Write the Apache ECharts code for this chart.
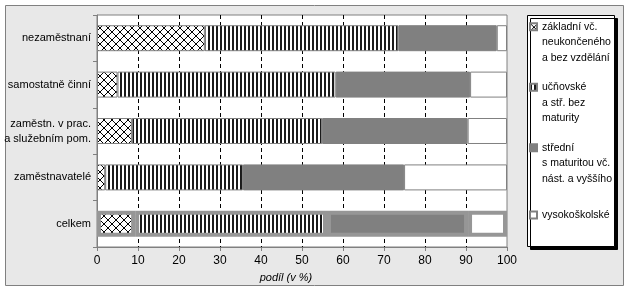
<!DOCTYPE html>
<html>
<head>
<meta charset="utf-8">
<script src="https://cdn.jsdelivr.net/npm/echarts@6/dist/echarts.min.js"></script>
<style>
html,body{margin:0;padding:0;background:#fff;}
#chart{width:630px;height:292px;}
</style>
</head>
<body>
<div id="chart"></div>
<script>
// ---- data ----
const categories = ['nezaměstnaní', 'samostatně činní', 'zaměstn. v prac.\na služebním pom.', 'zaměstnavatelé', 'celkem'];
const seriesNames = ['základní vč.\nneukončeného\na bez vzdělání', 'učňovské\na stř. bez\nmaturity', 'střední\ns maturitou vč.\nnást. a vyššího', 'vysokoškolské'];
const zakladni = [26.3, 5.0, 8.5, 2.0, 9.3];
const ucnovske = [47.2, 53.2, 46.4, 33.6, 46.8];
const stredni = [24.0, 32.8, 35.5, 39.3, 34.4];
const vysokoskolske = [2.5, 9.0, 9.6, 25.1, 9.5];
const xMin = 0, xMax = 100, xStep = 10;
const axisName = 'podíl (v %)';

// ---- patterns ----
function crossPattern() {
  const c = document.createElement('canvas'); c.width = 8; c.height = 8;
  const g = c.getContext('2d');
  g.fillStyle = '#fff'; g.fillRect(0, 0, 8, 8);
  g.fillStyle = '#000';
  for (let i = 0; i < 8; i++) { g.fillRect(i, i, 1, 1); g.fillRect(7 - i, i, 1, 1); }
  return c;
}
function stripePattern() {
  const c = document.createElement('canvas'); c.width = 4; c.height = 4;
  const g = c.getContext('2d');
  g.fillStyle = '#fff'; g.fillRect(0, 0, 4, 4);
  g.fillStyle = '#1a1a1a'; g.fillRect(0, 0, 2, 4);
  return c;
}
const fills = [
  { image: crossPattern(), repeat: 'repeat' },
  { image: stripePattern(), repeat: 'repeat' },
  '#808080',
  '#ffffff'
];
const valuesList = [zakladni, ucnovske, stredni, vysokoskolske];
const totalIndex = categories.indexOf('celkem');

const series = valuesList.map((vals, si) => ({
  name: seriesNames[si],
  type: 'bar',
  stack: 'all',
  barWidth: '56%',
  itemStyle: { color: fills[si], borderColor: '#808080', borderWidth: 1 },
  emphasis: { disabled: true },
  data: vals.map((v, i) => i === totalIndex
    ? { value: v, itemStyle: { borderColor: '#969696', borderWidth: 4 } }
    : v)
}));

const LH = 15.5;
const BLOCK = 5; // lines per legend item block
function legendLabel(name) {
  const n = name.split('\n').length;
  const pre = n - 1 >= 2 ? n - 1 : 2;
  const lines = [];
  for (let i = 0; i < pre; i++) lines.push(' ');
  lines.push(name);
  const used = pre + n;
  for (let i = used; i < BLOCK; i++) lines.push(' ');
  return lines.join('\n');
}

const chart = echarts.init(document.getElementById('chart'), null, { renderer: 'canvas' });
chart.setOption({
  backgroundColor: '#ffffff',
  animation: false,
  textStyle: { fontFamily: 'Liberation Sans, Arial, sans-serif' },
  graphic: [
    { type: 'rect', z: -10, shape: { x: 5.5, y: 5.5, width: 618, height: 280 },
      style: { fill: '#e8e8e8', stroke: '#808080', lineWidth: 1 } },
    { type: 'rect', z: 1, shape: { x: 527.5, y: 15.5, width: 87, height: 231 },
      style: { fill: '#ffffff', stroke: '#000', lineWidth: 1,
               shadowColor: '#000', shadowOffsetX: 3, shadowOffsetY: 3, shadowBlur: 0 } }
  ],
  grid: { left: 97, right: 123, top: 15, bottom: 45, show: true, containLabel: false,
          outerBoundsMode: 'none',
          backgroundColor: '#ffffff', borderColor: '#808080', borderWidth: 1 },
  legend: {
    orient: 'vertical', left: 529, top: -12, padding: 0,
    itemWidth: 7, itemHeight: 7, itemGap: -17,
    icon: 'rect', selectedMode: false,
    formatter: legendLabel,
    textStyle: { fontSize: 10.5, color: '#000', lineHeight: LH, fontFamily: 'Liberation Sans, Arial, sans-serif' },
    data: seriesNames.map((n, i) => i === seriesNames.length - 1
      ? { name: n, textStyle: { lineHeight: 18.2 } }
      : n)
  },
  xAxis: {
    type: 'value', min: xMin, max: xMax, interval: xStep,
    name: axisName, nameLocation: 'middle', nameGap: 25,
    nameTextStyle: { fontSize: 11, fontStyle: 'italic', color: '#000', padding: [0, 32, 0, 0] },
    axisLine: { show: true, lineStyle: { color: '#808080' } },
    axisTick: { show: true, length: 4, lineStyle: { color: '#808080' } },
    axisLabel: { fontSize: 12, color: '#000', margin: 8 },
    splitLine: { show: true, showMinLine: false, showMaxLine: false,
                 lineStyle: { color: '#000', type: [4, 3], width: 1 } }
  },
  yAxis: {
    type: 'category', inverse: true, data: categories,
    axisLine: { show: true, lineStyle: { color: '#808080' } },
    axisTick: { show: true, length: 4, lineStyle: { color: '#808080' } },
    axisLabel: { fontSize: 11, color: '#000', margin: 6, lineHeight: 15 },
    splitLine: { show: false }
  },
  series: series
});
</script>
</body>
</html>
